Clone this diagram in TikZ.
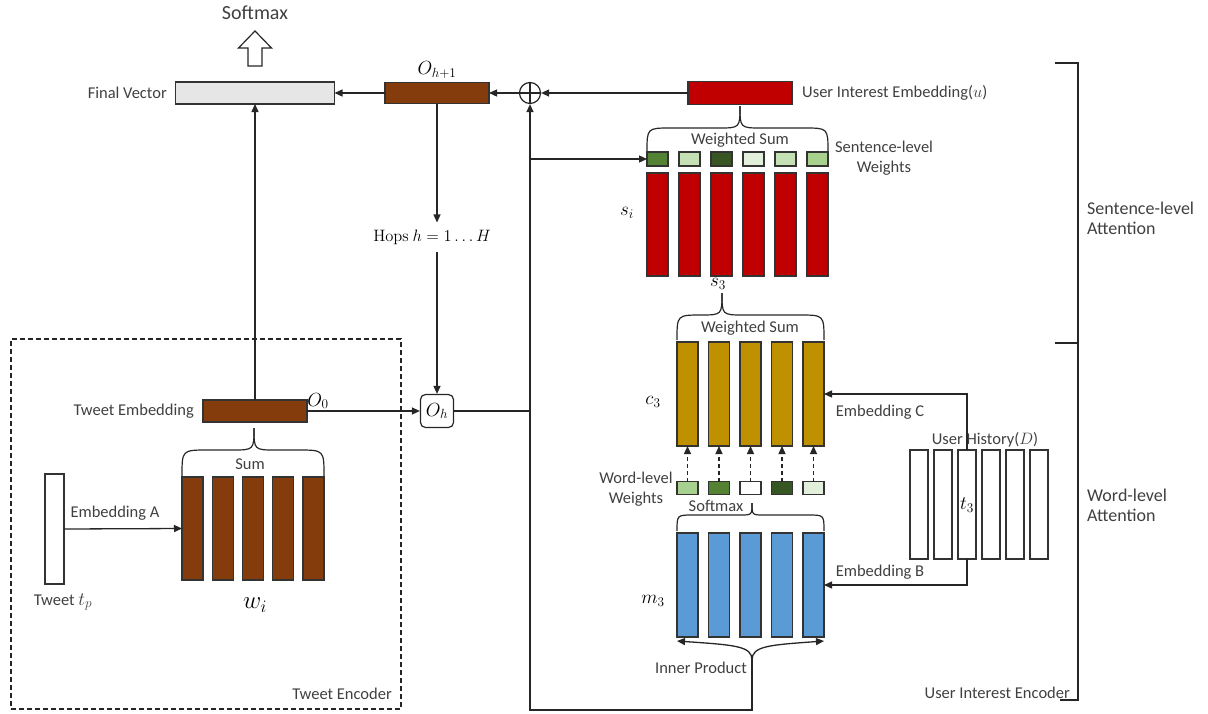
\RequirePackage{fix-cm}
\documentclass[tikz,border=0pt]{standalone}
\usepackage[no-math]{fontspec}
\setmainfont{Carlito}
\usetikzlibrary{arrows.meta}
\definecolor{brn}{HTML}{843C0C}
\definecolor{redc}{HTML}{C00000}
\definecolor{gold}{HTML}{BF9000}
\definecolor{blu}{HTML}{5B9BD5}
\definecolor{fvg}{HTML}{E6E6E6}
\definecolor{gA}{HTML}{548235}
\definecolor{gB}{HTML}{C5E0B4}
\definecolor{gC}{HTML}{375623}
\definecolor{gD}{HTML}{E2EFDA}
\definecolor{gE}{HTML}{A9D18E}
\definecolor{txt}{HTML}{404040}
\definecolor{edge}{HTML}{333333}
\newcommand\lblf{\fontsize{16.5}{19.5}\selectfont}
\newcommand\mathf{\fontsize{19}{22}\selectfont}
\newcommand\mybrace[6]{%
 \draw[brc] (#1,#3) .. controls (#1,#4) .. ({#1+#3-#4},#4) -- ({#5-#4+#6},#4) .. controls (#5,#4) .. (#5,#6);
 \draw[brc] (#2,#3) .. controls (#2,#4) .. ({#2-#3+#4},#4) -- ({#5+#4-#6},#4) .. controls (#5,#4) .. (#5,#6);}
\begin{document}
\begin{tikzpicture}[x=1pt,y=-1pt,
 lbl/.style={font=\lblf, text=txt, inner sep=0pt},
 mlbl/.style={font=\mathf, text=black, inner sep=0pt},
 bx/.style={draw=edge, line width=1.1pt, inner sep=0pt, outer sep=0pt},
 conn/.style={draw=black!85, line width=1.3pt},
 arr/.style={conn, -{Triangle[length=8pt,width=7pt]}},
 brc/.style={draw=black!85, line width=1.2pt},
]
\useasboundingbox (0,0) rectangle (1208,713);

% ---------- top row ----------
\node[font=\fontsize{20}{24}\selectfont, text=txt, inner sep=0pt] (smx) at (255,13) {Softmax};
\draw[line width=1.2pt, draw=black!85] (255,31) -- (271.5,48) -- (262,48) -- (262,66) -- (248,66) -- (248,48) -- (238.5,48) -- cycle;

\node[bx, fill=fvg, minimum width=159pt, minimum height=22pt] (fv) at (255,93) {};
\node[lbl, anchor=east] (fvl) at (167,93) {Final Vector};
\node[bx, fill=brn, minimum width=104pt, minimum height=21pt] (oh1) at (437,93) {};
\node[mlbl] (oh1l) at (437,70) {$O_{h+1}$};
\node[circle, draw=black!85, line width=1.2pt, minimum size=21pt, inner sep=0pt] (plus) at (530,93) {};
\draw[conn] (plus.north) -- (plus.south) (plus.west) -- (plus.east);
\node[bx, fill=redc, minimum width=104pt, minimum height=23pt] (uie) at (740,93) {};
\node[lbl, anchor=west] (uiel) at (802,93) {User Interest Embedding($u$)};
\draw[arr] (uie.west) -- (plus.east);
\draw[arr] (plus.west) -- (oh1.east);
\draw[arr] (oh1.west) -- (fv.east);

% ---------- sentence level ----------
\mybrace{647}{828}{152}{128}{740}{106}
\node[lbl] (ws1) at (740,140) {Weighted Sum};
\foreach \x/\c [count=\i] in {657.5/gA,689.5/gB,721.5/gC,753.5/gD,785.5/gB,817.5/gE}{
 \node[bx, fill=\c, minimum width=21pt, minimum height=14pt] (sw\i) at (\x,159) {};
 \node[bx, fill=redc, minimum width=21pt, minimum height=103pt] (rb\i) at (\x,224.5) {};
}
\node[lbl, align=center] (swl) at (884,158) {Sentence-level\\Weights};
\node[mlbl] (sil) at (627,213) {$s_i$};
\node[mlbl] (s3l) at (718,284) {$s_3$};

% ---------- word level ----------
\mybrace{677}{824}{340}{315}{722}{293}
\node[lbl] (ws2) at (750,328) {Weighted Sum};
\foreach \x/\c [count=\i] in {687.5/gE,719/gA,750.5/white,782/gC,813.5/gD}{
 \node[bx, fill=gold, minimum width=21pt, minimum height=104pt] (yb\i) at (\x,394) {};
 \node[bx, fill=\c, minimum width=21pt, minimum height=13pt] (ww\i) at (\x,488) {};
 \node[bx, fill=blu, minimum width=21pt, minimum height=104pt] (bb\i) at (\x,585) {};
 \draw[arr, dash pattern=on 4pt off 3pt] (ww\i.north) -- (yb\i.south);
}
\node[mlbl] (c3l) at (653,402) {$c_3$};
\node[lbl, align=center] (wwl) at (636,489) {Word-level\\Weights};
\mybrace{677}{824}{531}{515}{752}{503}
\node[lbl] (smx2) at (716,506) {Softmax};
\node[mlbl] (m3l) at (653,601) {$m_3$};

% inner product
\coordinate (ipt) at (752,660);
\coordinate (ipb) at (752,710);
\draw[arr] (ipt) .. controls (752,646) and (735,645) .. ([yshift=-4pt]bb1.south west);
\draw[arr] (ipt) .. controls (752,646) and (769,645) .. ([yshift=-4pt]bb5.south east);
\draw[arr] (ipt) -- (ipb) -| (plus.south);
\node[lbl] (ipl) at (701,668) {Inner Product};
\coordinate (br) at (530,159);
\draw[arr] (br) -- (sw1.west);

% user history
\foreach \x [count=\i] in {919,943,967,991,1015,1039}
 \node[bx, fill=white, minimum width=18pt, minimum height=109pt] (uh\i) at (\x,504.5) {};
\node[lbl] (uhl) at (985,440) {User History($D$)};
\node[mlbl] (t3l) at (967,505) {$t_3$};
\draw[arr] (uh3.north) |- (yb5.east);
\draw[arr] (uh3.south) |- (bb5.east);
\node[lbl] (ecl) at (880,412) {Embedding C};
\node[lbl] (ebl) at (880,572) {Embedding B};

% hops and O_h
\node[draw=black!85, line width=1.2pt, rounded corners=5pt, minimum width=33pt, minimum height=33pt, inner sep=0pt, font=\mathf] (oh) at (437,411) {$O_h$};
\node[mlbl, font=\lblf, inner ysep=7pt] (hops) at (432,237) {$\mathrm{Hops}\ h=1\ldots H$};
\draw[arr] (oh1.south) -- (oh1.south |- hops.north);
\draw[arr] (oh1.south |- hops.south) -- (oh.north);
\draw[conn] (oh.east) -- (oh.east -| plus.south);

% ---------- tweet encoder ----------
\node[draw=black!85, line width=1.1pt, dash pattern=on 5pt off 3pt, minimum width=390pt, minimum height=370pt, inner sep=0pt] (tenc) at (206,524) {};
\node[lbl, anchor=east] (tencl) at (392,694) {Tweet Encoder};
\node[bx, fill=brn, minimum width=104pt, minimum height=22pt] (te) at (255,411) {};
\node[lbl, anchor=east] (tel) at (194,411) {Tweet Embedding};
\node[mlbl] (o0l) at (318,401) {$O_0$};
\draw[arr] (te.north) -- (fv.south);
\draw[arr] (te.east) -- (oh.west);
\mybrace{182}{324}{476}{450}{254}{428}
\node[lbl] (suml) at (250,464) {Sum};
\foreach \x [count=\i] in {192.5,222.75,253,283.25,313.5}
 \node[bx, fill=brn, minimum width=21pt, minimum height=103pt] (tb\i) at (\x,528.5) {};
\node[bx, fill=white, minimum width=19pt, minimum height=110pt] (tw) at (54.5,529) {};
\draw[arr] (tw.east) -- (tb1.west);
\node[lbl] (eal) at (115,513) {Embedding A};
\node[lbl] (twl) at (63,602) {Tweet {\mathf$t_p$}};
\node[mlbl, font=\fontsize{25}{28}\selectfont] (wil) at (255,605) {$w_i$};

% ---------- right bracket ----------
\draw[conn] (1055,63) -- (1078,63) -- (1078,700) -- (1060,700);
\draw[conn] (1055,343) -- (1078,343);
\node[lbl, align=left, anchor=west, font=\fontsize{18}{20}\selectfont] (sla) at (1087,218) {Sentence-level\\Attention};
\node[lbl, align=left, anchor=west, font=\fontsize{18}{20}\selectfont] (wla) at (1087,505) {Word-level\\Attention};
\node[lbl, anchor=east] (uienc) at (1070,693) {User Interest Encoder};
\end{tikzpicture}
\end{document}
